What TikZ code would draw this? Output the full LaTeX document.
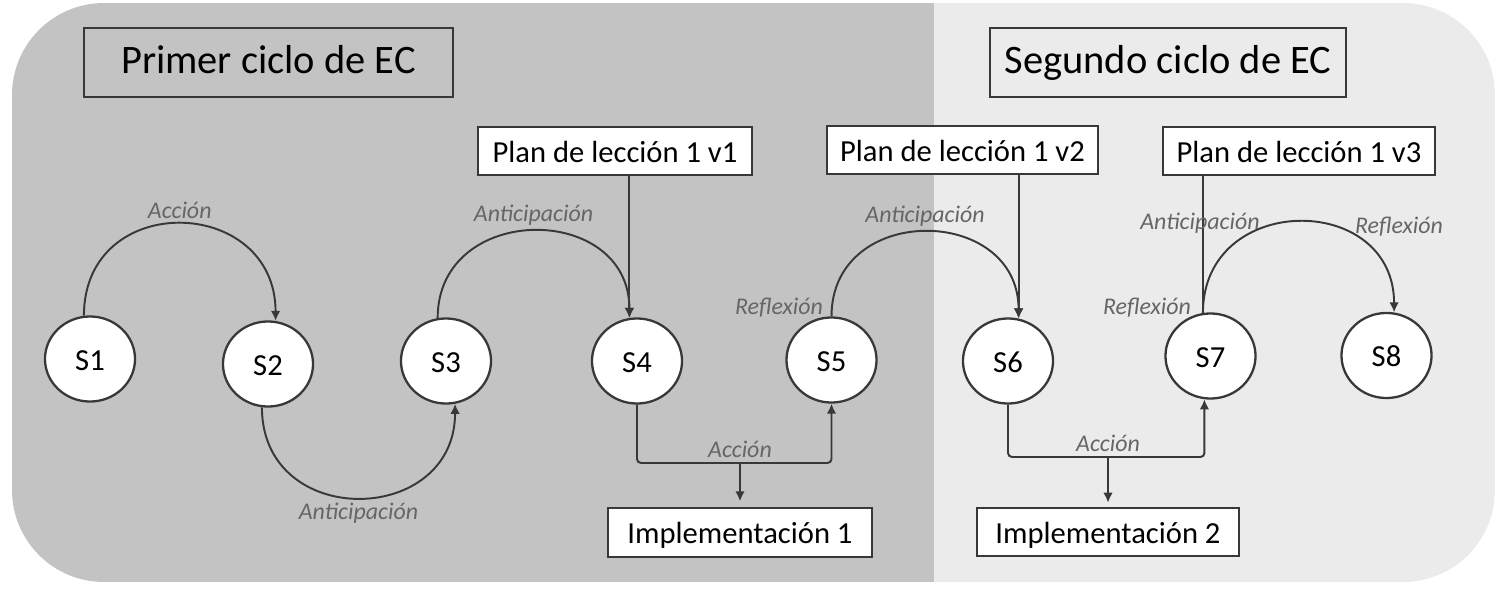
\documentclass[tikz,border=0pt]{standalone}
\usepackage{fontspec}
\setmainfont{Carlito}
\usepackage{tikz}
\usetikzlibrary{arrows.meta,shapes.geometric}

\definecolor{bgdark}{HTML}{C3C3C3}
\definecolor{bglight}{HTML}{EBEBEB}
\definecolor{linegray}{HTML}{383838}
\definecolor{labelgray}{HTML}{666666}

\tikzset{
	sess/.style = {ellipse, draw=linegray, line width=.65pt, fill=white, minimum width=.9cm, minimum height=.85cm, inner sep=0pt, text height=.75em, text depth=.1em, font=\fontsize{8.7}{10}\selectfont},
	cycbox/.style = {draw=linegray, line width=.7pt, minimum height=.69cm, inner sep=0pt, text height=.75em, text depth=.1em, font=\fontsize{11.5}{13}\selectfont},
	planbox/.style = {draw=linegray, line width=.6pt, fill=white, minimum height=.48cm, inner sep=0pt, text height=.75em, text depth=.1em, font=\fontsize{8.7}{10}\selectfont},
	lbl/.style = {text=labelgray, inner sep=1.3pt, font=\fontsize{6.8}{8}\selectfont\itshape},
	conn/.style = {draw=linegray, line width=.55pt}
}

\begin{document}
\begin{tikzpicture}[x=.01cm, y=-.01cm, >={Latex[length=1mm,width=.95mm]}]
	\useasboundingbox (0,0) rectangle (1500,600);
	\begin{scope}
		\clip[rounded corners=.92cm] (12,3) rectangle (1495,582);
		\fill[bgdark] (12,3) rectangle (934,582);
		\fill[bglight] (934,3) rectangle (1495,582);
	\end{scope}

	\node[cycbox, minimum width=3.69cm] (cyc1) at (268.5,62.5) {Primer ciclo de EC};
	\node[cycbox, minimum width=3.56cm] (cyc2) at (1168,62.5) {Segundo ciclo de EC};

	\node[planbox, minimum width=2.73cm] (plan1) at (615,151) {Plan de lección 1 v1};
	\node[planbox, minimum width=2.71cm] (plan2) at (962.5,150) {Plan de lección 1 v2};
	\node[planbox, minimum width=2.72cm] (plan3) at (1299,151) {Plan de lección 1 v3};

	\node[sess] (s1) at (90,359) {S1};
	\node[sess] (s2) at (268,364) {S2};
	\node[sess] (s3) at (446,361) {S3};
	\node[sess] (s4) at (637,361) {S4};
	\node[sess] (s5) at (831.5,360) {S5};
	\node[sess] (s6) at (1008,361) {S6};
	\node[sess] (s7) at (1210.5,356) {S7};
	\node[sess] (s8) at (1386.5,355.5) {S8};

	\node[planbox, minimum width=2.64cm, minimum height=.49cm] (impl1) at (740,532.5) {Implementación 1};
	\node[planbox, minimum width=2.62cm] (impl2) at (1108,532) {Implementación 2};

	\draw[conn, ->] (s1.98) .. controls +(0,-126) and +(0,-126) .. (s2.80) node[lbl, above, pos=.5] {Acción};
	\draw[conn, ->] (s2.262) .. controls +(0,123) and +(0,123) .. (s3.282) node[lbl, below, pos=.5] {Anticipación};
	\draw[conn, ->] (s3.101) .. controls +(0,-116) and +(0,-116) .. (s4.100) node[lbl, above, pos=.5] {Anticipación};
	\draw[conn, ->] (s5.north) .. controls +(0,-114) and +(0,-114) .. (s6.76) node[lbl, above, pos=.5] {Anticipación};
	\draw[conn, ->] (s7.100) .. controls +(0,-121) and +(0,-121) .. (s8.80);

	\draw[conn, ->] (plan1.south -| s4.100) -- (s4.100);
	\draw[conn, ->] (plan2.south -| s6.76) -- (s6.76);
	\draw[conn] (plan3.south -| s7.100) -- (s7.100);

	\coordinate (j1) at (740,463);
	\coordinate (j2) at (1108,457);
	\draw[conn, ->, rounded corners=.04cm] (s4.south) |- (j1) -| (s5.south);
	\draw[conn, ->, rounded corners=.04cm] (s6.south) |- (j2) -| (s7.262);
	\draw[conn, ->, shorten >=1.6pt] (j1) node[lbl, above] {Acción} -- (impl1.north);
	\draw[conn, ->, shorten >=1.2pt] (j2) node[lbl, above] {Acción} -- (impl2.north);

	\node[lbl] (ref5) at (779,308) {Reflexión};
	\node[lbl] (ref7) at (1147,308) {Reflexión};
	\node[lbl] (ant7) at (1200,223) {Anticipación};
	\node[lbl] (ref8) at (1399,227) {Reflexión};
\end{tikzpicture}
\end{document}
